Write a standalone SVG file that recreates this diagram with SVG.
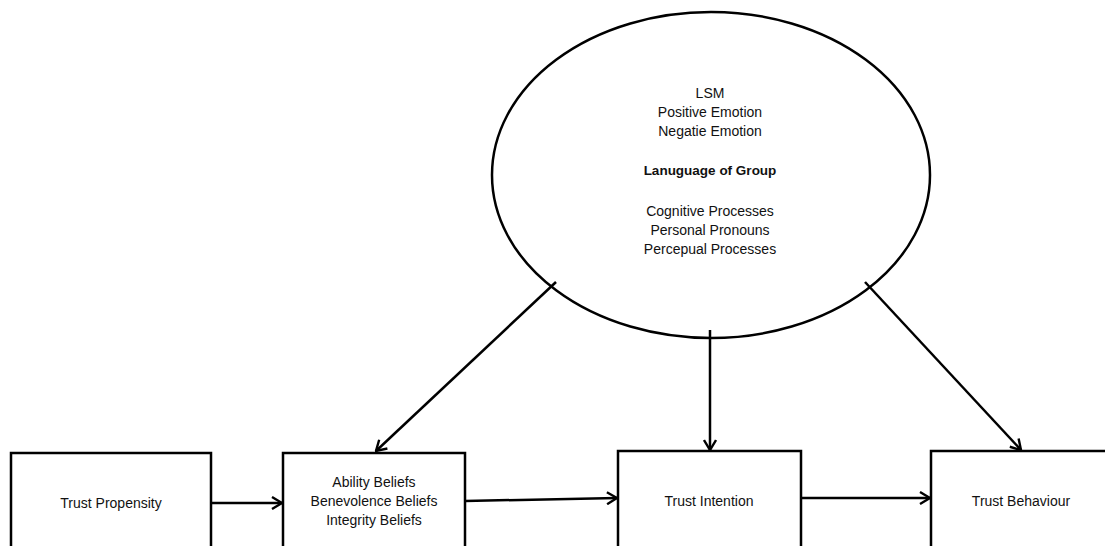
<svg xmlns="http://www.w3.org/2000/svg" width="1105" height="546" viewBox="0 0 1105 546">
<style>
.s{fill:#fff;stroke:#000;stroke-width:2.5}
.c{fill:none;stroke:#000;stroke-width:2.5}
text{font-family:"Liberation Sans",Arial,sans-serif;font-size:14px;fill:#111;text-anchor:middle}
.b{font-weight:bold;font-size:13.5px}
</style>
<defs>
<marker id="a" viewBox="0 0 14 14" refX="13" refY="7" markerWidth="14" markerHeight="14" markerUnits="userSpaceOnUse" orient="auto">
<polyline points="3,1 13,7 3,13" fill="none" stroke="#000" stroke-width="2.4"/>
</marker>
</defs>
<rect width="1105" height="546" fill="#fff"/>
<g id="group-language">
<ellipse class="s" cx="711" cy="175" rx="219" ry="163"/>
<text x="710" y="98">LSM</text>
<text x="710" y="117">Positive Emotion</text>
<text x="710" y="136">Negatie Emotion</text>
<text class="b" x="710" y="175">Lanuguage of Group</text>
<text x="710" y="216">Cognitive Processes</text>
<text x="710" y="235">Personal Pronouns</text>
<text x="710" y="254">Percepual Processes</text>
</g>
<g id="trust-propensity">
<rect class="s" x="11" y="453" width="200" height="120"/>
<text x="111" y="508">Trust Propensity</text>
</g>
<g id="beliefs">
<rect class="s" x="283" y="453" width="182" height="120"/>
<text x="374" y="487">Ability Beliefs</text>
<text x="374" y="506">Benevolence Beliefs</text>
<text x="374" y="525">Integrity Beliefs</text>
</g>
<g id="trust-intention">
<rect class="s" x="618" y="451" width="183" height="120"/>
<text x="709" y="506">Trust Intention</text>
</g>
<g id="trust-behaviour">
<rect class="s" x="931" y="451" width="190" height="120"/>
<text x="1021" y="506">Trust Behaviour</text>
</g>
<g id="connectors">
<line class="c" x1="211" y1="503" x2="282" y2="503" marker-end="url(#a)"/>
<line class="c" x1="465" y1="501" x2="617" y2="498" marker-end="url(#a)"/>
<line class="c" x1="801" y1="498" x2="930" y2="498" marker-end="url(#a)"/>
<line class="c" x1="556" y1="282" x2="376" y2="451" marker-end="url(#a)"/>
<line class="c" x1="710" y1="330" x2="710" y2="450" marker-end="url(#a)"/>
<line class="c" x1="865" y1="282" x2="1021" y2="450" marker-end="url(#a)"/>
</g>
</svg>
